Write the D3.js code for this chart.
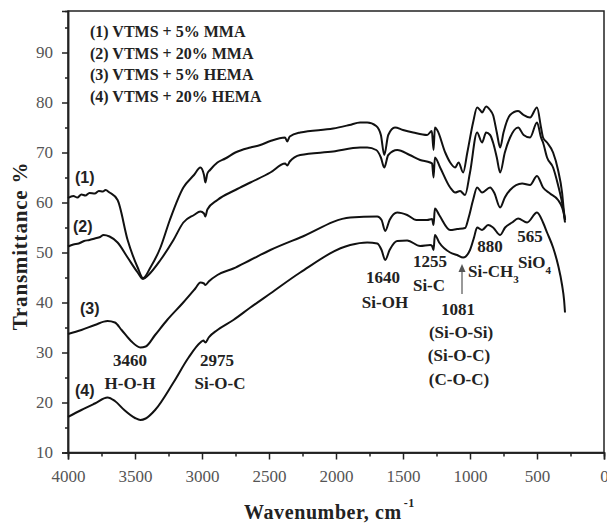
<!DOCTYPE html>
<html>
<head>
<meta charset="utf-8">
<script src="https://cdn.jsdelivr.net/npm/d3@7/dist/d3.min.js"></script>
<style>
	body { margin: 0; background: #fff; }
	text { font-family: "Times New Roman", "Liberation Serif", Tinos, Times, serif; }
</style>
</head>
<body>
<div id="chart"></div>
<script>
var xTicks = [4000, 3500, 3000, 2500, 2000, 1500, 1000, 500, 0];
var xMinor = [3750, 3250, 2750, 2250, 1750, 1250, 750, 250];
var yTicks = [10, 20, 30, 40, 50, 60, 70, 80, 90];
var yMinor = [15, 25, 35, 45, 55, 65, 75, 85, 95];

var legendLabels = ["(1) VTMS + 5% MMA", "(2) VTMS + 20% MMA", "(3) VTMS + 5% HEMA", "(4) VTMS + 20% HEMA"];
var curveLabels = ["(1)", "(2)", "(3)", "(4)"];

// [wavenumber, transmittance]
var series1 = [[4000,60.9],[3960,61.3],[3930,61.0],[3900,61.6],[3870,61.4],[3840,61.9],[3800,61.8],[3770,62.3],[3740,62.2],[3720,62.5],[3690,62.0],[3630,60.5],[3555,52.5],[3480,47],[3440,44.9],
	[3385,47],[3310,51],[3240,56.5],[3139,63],[3060,65.5],[3012,67],[2985,65.5],[2975,64],[2960,65.8],[2940,66.5],[2885,68],[2826,68.8],[2751,70],[2639,71],[2565,71.5],[2490,72.3],[2380,73],[2364,72.2],[2345,73.2],
	[2267,74],[2021,74.8],[1900,75.5],[1820,76],[1767,76],[1700,75.3],[1665,73.5],[1640,69.5],[1610,73.5],[1560,75],[1500,74.5],[1424,74],[1320,73.5],[1285,74.3],[1272,70.5],[1262,75],[1245,74.5],
	[1185,70],[1148,68],[1111,67],[1085,68],[1051,66],[1020,70],[977,76],[947,79],[925,78.5],[910,78],[880,79.2],[850,78.5],[828,77.5],[800,74],[775,71],[750,74],[701,77.5],[641,78.3],[600,77.5],[552,77],
	[500,79],[470,75],[455,73],[425,72],[380,70],[343,66.5],[313,62],[298,58],[290,56.5]];

var series2 = [[4000,51.2],[3960,51.6],[3920,51.8],[3880,52.3],[3840,52.5],[3800,52.8],[3760,53.1],[3735,53.5],[3690,53.2],[3630,52],[3555,49],[3480,46],[3440,44.7],[3400,45.5],[3310,48.5],
	[3213,52.5],[3139,56],[3060,57.5],[3012,58.2],[2985,57.8],[2975,57.2],[2960,58.6],[2885,60.5],[2751,62.5],[2639,64],[2490,66],[2380,67.8],[2364,67.4],[2345,68.2],[2267,69.5],[2021,70.2],[1820,71],[1767,71],
	[1700,70.5],[1665,69],[1640,67],[1610,69.5],[1543,70.5],[1450,69.5],[1372,68.5],[1297,68],[1283,67.8],[1272,65],[1262,69],[1223,67],[1148,63],[1111,62],[1074,62.3],[1037,61.5],[1000,66],[947,74],[910,72],
	[880,74],[850,73.5],[828,72],[800,69],[775,66],[740,70],[701,73],[641,75],[600,73.5],[552,73],[500,76],[470,73],[455,72],[425,69],[380,67],[343,63.5],[313,60],[291,56.5]];

var series3 = [[4000,33.7],[3900,34.5],[3800,35.5],[3705,36.3],[3650,36],[3600,34.5],[3530,32.3],[3460,31],[3420,31.2],[3350,33.5],[3260,36.5],[3140,40],[3050,42.8],[3012,44],[2985,43.8],[2975,43.5],[2950,44.2],
	[2885,45.5],[2766,46.8],[2639,48.5],[2490,50.5],[2267,53],[1894,57],[1692,57.2],[1660,56.5],[1633,54.3],[1600,56.5],[1543,58],[1469,57.5],[1400,56.5],[1320,56.5],[1283,56.7],[1272,55.5],[1262,58.8],[1230,57.5],
	[1148,54.5],[1096,54.7],[1037,54.9],[1010,57],[977,60.5],[947,63],[910,62],[850,63],[820,62],[775,59],[740,61],[701,62.5],[611,63.8],[552,63.5],[500,65.3],[455,63],[403,61.8],[343,60.5],[313,59],[298,57.5],[291,56]];

var series4 = [[4000,17.1],[3900,18.5],[3800,19.8],[3705,21],[3650,20.3],[3580,18.5],[3500,16.9],[3460,16.5],[3420,16.8],[3350,18.5],[3213,24],[3100,29],[3012,32],[2990,32.4],[2975,32],[2950,33],
	[2885,34.5],[2766,36.5],[2639,39],[2490,41.8],[2267,46],[1894,51.5],[1767,52],[1692,51.8],[1660,50.5],[1633,48.5],[1600,50.5],[1543,52.3],[1469,52.4],[1372,51.3],[1297,51.5],[1283,51.3],[1272,50.5],[1262,53.5],
	[1230,52],[1148,50],[1096,49.5],[1051,49],[1000,50.5],[970,53],[947,55],[910,54.5],[865,55.5],[828,55],[775,53.5],[738,55],[686,56],[641,56.8],[574,56],[500,58],[455,56],[425,54],[380,51],[343,47.5],[313,43.5],[298,40.5],[291,38]];

var allSeries = [series1, series2, series3, series4];

var conf = { width: 607, height: 524, left: 68, right: 604, top: 11, bottom: 452.5 };
var serif = "'Times New Roman', 'Liberation Serif', Tinos, Times, serif";

var x = d3.scaleLinear().domain([4000, 0]).range([conf.left, conf.right]);
var y = d3.scaleLinear().domain([10, 98.3]).range([conf.bottom, conf.top]);

var $svg = d3.select("#chart").append("svg")
	.attr("width", conf.width)
	.attr("height", conf.height)
	.style("font-family", serif);

// frame
$svg.append("rect")
	.attr("x", conf.left).attr("y", conf.top)
	.attr("width", conf.right - conf.left).attr("height", conf.bottom - conf.top)
	.attr("fill", "none").attr("stroke", "#222").attr("stroke-width", 1.5);

// x axis: major + minor ticks
$svg.append("g").attr("transform", "translate(0," + conf.bottom + ")")
	.call(d3.axisBottom(x).tickValues(xTicks).tickSize(7).tickPadding(10).tickFormat(d3.format("d")));
$svg.append("g").attr("transform", "translate(0," + conf.bottom + ")")
	.call(d3.axisBottom(x).tickValues(xMinor).tickSize(4).tickFormat(""));

$svg.append("g").attr("transform", "translate(" + conf.left + ",0)")
	.call(d3.axisLeft(y).tickValues(yTicks).tickSize(6).tickPadding(9));
$svg.append("g").attr("transform", "translate(" + conf.left + ",0)")
	.call(d3.axisLeft(y).tickValues(yMinor).tickSize(3).tickFormat(""));

$svg.selectAll(".domain").attr("stroke", "#222").attr("stroke-width", 1.5);
$svg.selectAll(".tick line").attr("stroke", "#222").attr("stroke-width", 1.5);
$svg.selectAll("g").attr("font-family", null);
$svg.selectAll(".tick text")
	.style("font-family", serif)
	.style("font-size", "17px")
	.attr("fill", "#555");

// spectra
var line = d3.line()
	.x(function(d) { return x(d[0]); })
	.y(function(d) { return y(d[1]); })
	.curve(d3.curveMonotoneX);

$svg.append("g").selectAll("path.spectrum").data(allSeries).enter()
	.append("path")
	.attr("class", "spectrum")
	.attr("d", line)
	.attr("fill", "none")
	.attr("stroke", "#111")
	.attr("stroke-width", 2)
	.attr("stroke-linejoin", "round");

// legend
$svg.append("g").selectAll("text").data(legendLabels).enter()
	.append("text")
	.attr("x", 90)
	.attr("y", function(d, i) { return 37 + i * 21.5; })
	.style("font-family", serif)
	.style("font-size", "16px")
	.style("font-weight", "bold")
	.attr("fill", "#222")
	.text(function(d) { return d; });

// curve numbers
var curveLabelPos = [[75, 183], [73, 232], [80, 314], [75, 396]];
$svg.append("g").selectAll("text").data(curveLabels).enter()
	.append("text")
	.attr("x", function(d, i) { return curveLabelPos[i][0]; })
	.attr("y", function(d, i) { return curveLabelPos[i][1]; })
	.style("font-family", "'Liberation Sans', Arial, sans-serif")
	.style("font-size", "16px")
	.style("font-weight", "bold")
	.attr("fill", "#222")
	.text(function(d) { return d; });

// band annotations
var notes = [
	["3460", 130, 366], ["H-O-H", 130, 389],
	["2975", 217, 366], ["Si-O-C", 220, 389],
	["1640", 383, 283], ["Si-OH", 385, 308],
	["1255", 430, 267], ["Si-C", 429, 291],
	["1081", 458, 315], ["(Si-O-Si)", 461, 338], ["(Si-O-C)", 459, 361], ["(C-O-C)", 459, 385],
	["880", 490, 252],
	["565", 530, 242]
];
var $notes = $svg.append("g")
	.style("font-family", serif)
	.style("font-size", "17px")
	.style("font-weight", "bold")
	.attr("fill", "#222")
	.attr("text-anchor", "middle");
$notes.selectAll("text").data(notes).enter()
	.append("text")
	.attr("x", function(d) { return d[1]; })
	.attr("y", function(d) { return d[2]; })
	.text(function(d) { return d[0]; });

var ch3 = $notes.append("text").attr("x", 468).attr("y", 277).attr("text-anchor", "start");
ch3.append("tspan").text("Si-CH");
ch3.append("tspan").attr("dy", 6).style("font-size", "11px").text("3");
var sio4 = $notes.append("text").attr("x", 518).attr("y", 268).attr("text-anchor", "start");
sio4.append("tspan").text("SiO");
sio4.append("tspan").attr("dy", 6).style("font-size", "11px").text("4");

// arrow for 1081
$svg.append("line")
	.attr("x1", 462).attr("y1", 294).attr("x2", 462).attr("y2", 270)
	.attr("stroke", "#555").attr("stroke-width", 1.2);
$svg.append("path")
	.attr("d", "M458.5,272 L462,264 L465.5,272 Z")
	.attr("fill", "#555");

// axis titles
$svg.append("text")
	.attr("transform", "translate(27,246) rotate(-90)")
	.attr("text-anchor", "middle")
	.style("font-family", serif)
	.style("font-size", "21px")
	.style("font-weight", "bold")
	.style("letter-spacing", "0.8px")
	.attr("fill", "#222")
	.text("Transmittance %");

var xt = $svg.append("text")
	.attr("x", 244).attr("y", 519)
	.style("font-family", serif)
	.style("font-size", "20px")
	.style("font-weight", "bold")
	.style("letter-spacing", "0.6px")
	.attr("fill", "#222");
xt.append("tspan").text("Wavenumber, cm");
xt.append("tspan").attr("dy", -12).attr("dx", 2).style("font-size", "12px").text("-1");
</script>
</body>
</html>
